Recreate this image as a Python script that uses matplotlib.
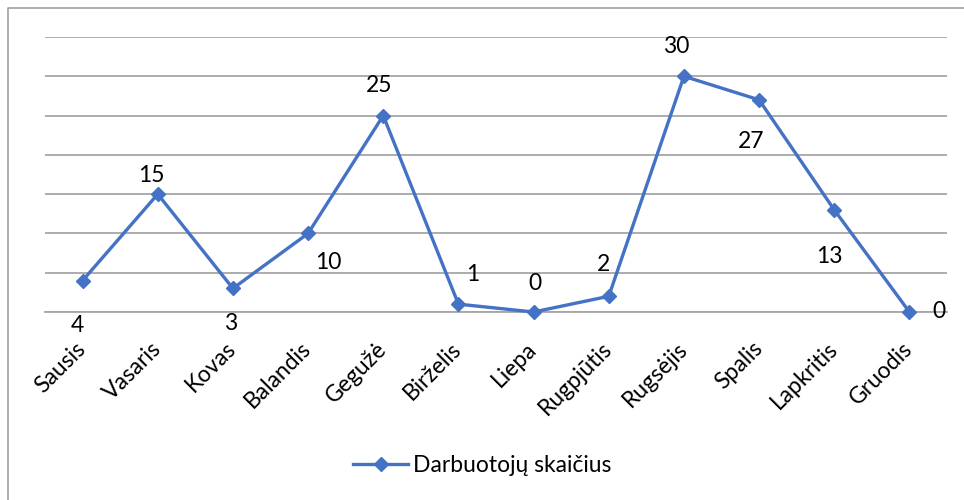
import matplotlib.pyplot as plt
from matplotlib.lines import Line2D

months = ["Sausis", "Vasaris", "Kovas", "Balandis", "Gegužė", "Birželis",
          "Liepa", "Rugpjūtis", "Rugsėjis", "Spalis", "Lapkritis", "Gruodis"]
workers = [4, 15, 3, 10, 25, 1, 0, 2, 30, 27, 13, 0]
series_name = "Darbuotojų skaičius"

# data label offsets from each point, in px (right, down)
label_off = [(-5, 45), (-6, -19), (-2, 35), (20, 29), (-4, -30), (14, -30),
             (1, -29), (-5, -32), (-8, -30), (-8, 42), (-5, 47), (30, 0)]

plt.rcParams["font.family"] = ["Lato", "DejaVu Sans"]
blue = "#4472C4"
grid = "#a6a6a6"
fs = 16.5

fig = plt.figure(figsize=(9.64, 5.0), dpi=100)
ax = fig.add_axes([45 / 964, 1 - 312 / 500, 902 / 964, 275 / 500])

x = list(range(len(months)))
ax.plot(x, workers, color=blue, lw=2.4, marker="D", ms=7.5, zorder=3,
        clip_on=False)

for i, v in enumerate(workers):
    dx, dy = label_off[i]
    ax.annotate(str(v), (i, v), xytext=(dx * 0.72, -dy * 0.72),
                textcoords="offset points", ha="center", va="center",
                fontsize=fs, color="black")

ax.set_xlim(-0.5, 11.5)
ax.set_ylim(0, 35)
ax.set_yticks(range(0, 36, 5))
ax.yaxis.grid(True, color=grid, lw=1.3)
ax.set_axisbelow(True)
ax.tick_params(axis="y", length=0, labelleft=False)
ax.tick_params(axis="x", length=0, pad=24)
ax.set_xticks(x)
ax.set_xticklabels(months, rotation=45, ha="right", va="center",
                   rotation_mode="anchor", fontsize=fs)
for s in ["top", "right", "left"]:
    ax.spines[s].set_visible(False)
ax.spines["bottom"].set_color(grid)
ax.spines["bottom"].set_linewidth(1.3)

# outer chart border (top and left visible)
fig.add_artist(Line2D([8 / 964, 8 / 964, 1], [0, 1 - 8 / 500, 1 - 8 / 500],
                      color="#a0a0a0", lw=1.2, transform=fig.transFigure))

handle = Line2D([], [], color=blue, lw=2.4, marker="D", ms=7.5)
fig.legend([handle], [series_name], loc="center", bbox_to_anchor=(0.5, 1 - 466 / 500),
           frameon=False, fontsize=fs, handlelength=2.4, handletextpad=0.2)

fig.savefig("out.png", dpi=100)
